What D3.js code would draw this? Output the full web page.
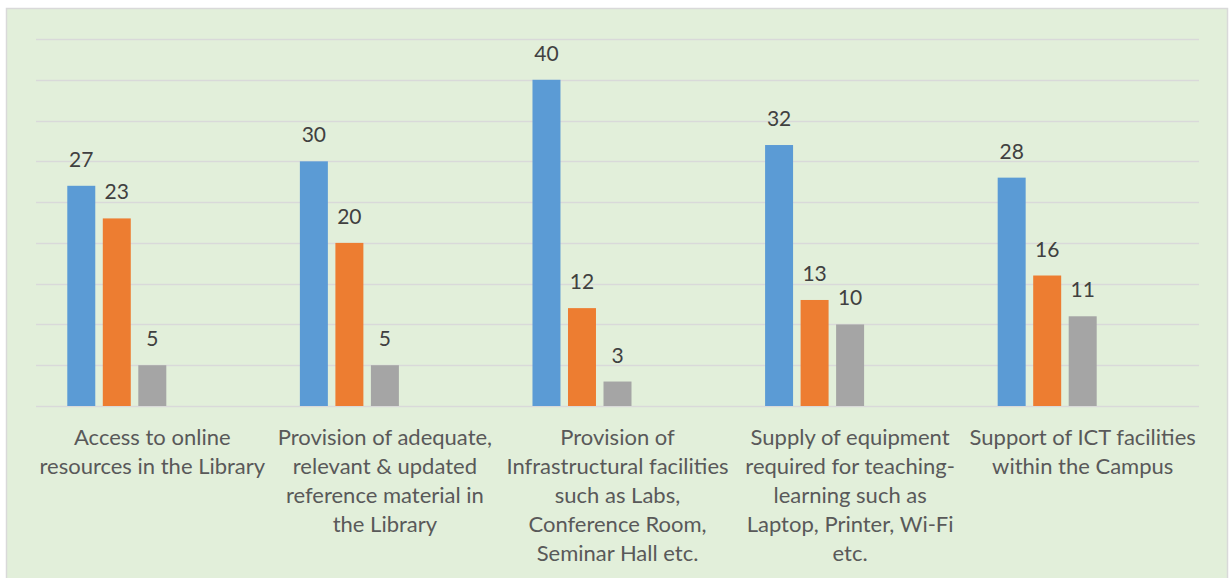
<!DOCTYPE html>
<meta charset="utf-8">
<script src="https://d3js.org/d3.v7.min.js"></script>
<style>
  body { margin: 0; background: #fff; }
  text { font-family: Lato, "Open Sans", sans-serif; }
</style>
<div id="vis"></div>
<script>
    // categories (already wrapped the way the original chart wraps them)
    var categories = [
        ["Access to online", "resources in the Library"],
        ["Provision of adequate,", "relevant & updated", "reference material in", "the Library"],
        ["Provision of", "Infrastructural facilities", "such as Labs,", "Conference Room,", "Seminar Hall etc."],
        ["Supply of equipment", "required for teaching-", "learning such as", "Laptop, Printer, Wi-Fi", "etc."],
        ["Support of ICT facilities", "within the Campus"]
    ];
    var seriesA = [27, 30, 40, 32, 28];
    var seriesB = [23, 20, 12, 13, 16];
    var seriesC = [5, 5, 3, 10, 11];
    var gridTicks = [0, 5, 10, 15, 20, 25, 30, 35, 40, 45];

    var colors = ["#5b9bd5", "#ed7d31", "#a5a5a5"];
    // the source chart has 5 series slots per category, only the first 3 hold data
    var slots = ["a", "b", "c", "d", "e"];

    var W = 1230, H = 578;
    var margin = { top: 39, right: 31, bottom: 172, left: 36 },
        width = W - margin.left - margin.right,
        height = H - margin.top - margin.bottom;

    var root = d3.select("#vis")
        .append("svg")
        .attr("width", W)
        .attr("height", H);

    // chart frame
    root.append("rect")
        .attr("x", 6.5).attr("y", 8.5)
        .attr("width", 1221).attr("height", 600)
        .attr("fill", "#e2efda")
        .attr("stroke", "#d9d9d9")
        .attr("stroke-width", 1.5);

    var svg = root.append("g")
        .attr("transform", "translate(" + margin.left + "," + margin.top + ")");

    var x = d3.scaleBand()
        .domain(d3.range(categories.length))
        .range([0, width])
        .paddingInner(0.269)
        .paddingOuter(0.1345);

    var xs = d3.scaleBand()
        .domain(slots)
        .range([0, x.bandwidth()])
        .paddingInner(0.212);

    var y = d3.scaleLinear()
        .domain([0, 45])
        .range([height, 0]);

    // gridlines
    svg.append("g")
        .selectAll("line")
        .data(gridTicks)
        .enter()
        .append("line")
        .attr("x1", 0)
        .attr("x2", width)
        .attr("y1", function (d) { return Math.round(y(d)) + 0.5 })
        .attr("y2", function (d) { return Math.round(y(d)) + 0.5 })
        .attr("stroke", "#d9d9d9")
        .attr("stroke-width", 1.5);

    var rows = categories.map(function (c, i) {
        return [seriesA[i], seriesB[i], seriesC[i]].map(function (v, j) {
            return { cat: i, slot: slots[j], value: v, color: colors[j] };
        });
    });
    var flat = [].concat.apply([], rows);

    // bars
    svg.selectAll(".bar")
        .data(flat)
        .enter()
        .append("rect")
        .attr("class", "bar")
        .attr("x", function (d) { return x(d.cat) + xs(d.slot) })
        .attr("y", function (d) { return y(d.value) })
        .attr("width", xs.bandwidth())
        .attr("height", function (d) { return height - y(d.value) })
        .attr("fill", function (d) { return d.color });

    // value labels
    svg.selectAll(".lbl")
        .data(flat)
        .enter()
        .append("text")
        .attr("class", "lbl")
        .attr("x", function (d) { return x(d.cat) + xs(d.slot) + xs.bandwidth() / 2 })
        .attr("y", function (d) { return y(d.value) - 19 })
        .attr("text-anchor", "middle")
        .attr("fill", "#404040")
        .style("font-size", "21px")
        .text(function (d) { return d.value });

    // category labels
    var catG = svg.selectAll(".cat")
        .data(categories)
        .enter()
        .append("text")
        .attr("class", "cat")
        .attr("text-anchor", "middle")
        .attr("fill", "#595959")
        .style("font-size", "22px")
        .attr("transform", function (d, i) {
            return "translate(" + (x(i) + x.bandwidth() / 2) + "," + (height + 39) + ")"
        });
    catG.selectAll("tspan")
        .data(function (d) { return d })
        .enter()
        .append("tspan")
        .attr("x", 0)
        .attr("y", function (d, i) { return i * 29 })
        .text(function (d) { return d });
</script>
